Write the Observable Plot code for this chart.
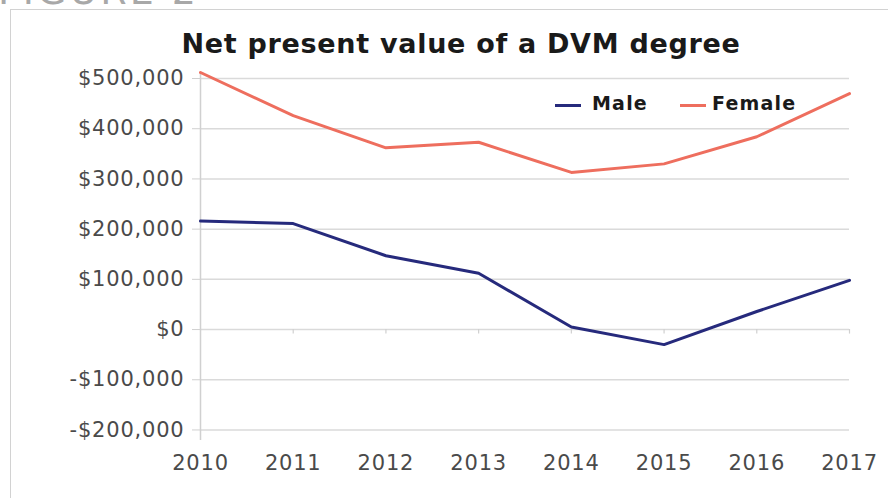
<!DOCTYPE html>
<html>
<head>
<meta charset="utf-8">
<script src="https://cdn.jsdelivr.net/npm/d3@7"></script>
<script src="https://cdn.jsdelivr.net/npm/@observablehq/plot@0.6"></script>
<style>
  html, body { margin: 0; padding: 0; background: #fff; }
  #wrap { position: relative; width: 888px; height: 498px; overflow: hidden; background: #fff; }
  #fig { position: absolute; left: -2px; top: -31px; font-family: "DejaVu Sans", sans-serif; font-size: 38px; color: #a8a8a8; letter-spacing: 3px; }
  #box { position: absolute; left: 10px; top: 9px; width: 960px; height: 600px; border: 1.5px solid #d2d2d2; box-sizing: border-box; }
  #title { position: absolute; left: 0; width: 922px; top: 30px; text-align: center; font-family: "DejaVu Sans", sans-serif; font-weight: bold; font-size: 27px; letter-spacing: 0.7px; color: #1a1a1a; line-height: 1; }
  #chart { position: absolute; left: 0; top: 0; }
  #chart svg text { letter-spacing: 0.8px; }
  .leg { position: absolute; top: 94px; font-family: "DejaVu Sans", sans-serif; font-weight: bold; font-size: 19px; letter-spacing: 1.2px; color: #1a1a1a; line-height: 1; }
  .sw { position: absolute; height: 3px; top: 104px; }
</style>
</head>
<body>
<div id="wrap">
  <div id="fig">FIGURE 2</div>
  <div id="box"></div>
  <div id="chart"></div>
  <div id="title">Net present value of a DVM degree</div>
  <div id="legend"></div>
</div>
<script>
const years = [2010, 2011, 2012, 2013, 2014, 2015, 2016, 2017];
const male = [216000, 211000, 147000, 112000, 5000, -30000, 36000, 98000];
const female = [512000, 426000, 362000, 373000, 313000, 330000, 384000, 470000];
const yTicks = [-200000, -100000, 0, 100000, 200000, 300000, 400000, 500000];
const seriesNames = ["Male", "Female"];
const seriesColors = ["#262a7c", "#ee6e5e"];

const data = [
  ...years.map((y, i) => ({year: y, value: male[i], series: "Male"})),
  ...years.map((y, i) => ({year: y, value: female[i], series: "Female"}))
];

const fmt = d => (d < 0 ? "-$" : "$") + d3.format(",")(Math.abs(d));

const chart = Plot.plot({
  width: 888,
  height: 498,
  marginLeft: 200,
  marginRight: 39,
  marginTop: 72,
  marginBottom: 58,
  style: {fontFamily: "DejaVu Sans, sans-serif", fontSize: "21px", color: "#4a4a4a", background: "transparent"},
  x: {domain: [2010, 2017]},
  y: {domain: [-221000, 512000]},
  color: {domain: seriesNames, range: seriesColors},
  marks: [
    Plot.gridY(yTicks, {stroke: "#dadada", strokeOpacity: 1, strokeWidth: 1.5}),
    Plot.ruleX(years.slice(1), {x: d => d, y1: 0, y2: -9000, stroke: "#d0d0d0", strokeWidth: 1.2}),
    Plot.ruleX([years[0]], {stroke: "#d0d0d0", strokeWidth: 1.5}),
    Plot.axisY(yTicks, {tickFormat: fmt, tickSize: 8, tickPadding: 8, stroke: "#d0d0d0", fill: "#4a4a4a", fontSize: 21, label: null}),
    Plot.axisX(years, {tickFormat: d => String(d), tickSize: 0, tickPadding: 15, fill: "#4a4a4a", fontSize: 21, label: null}),
    Plot.line(data, {x: "year", y: "value", z: "series", stroke: "series", strokeWidth: 3})
  ]
});
document.getElementById("chart").appendChild(chart);

// legend
const leg = document.getElementById("legend");
const legPos = [{sw: 555, tx: 592}, {sw: 680, tx: 712}];
seriesNames.forEach((name, i) => {
  const s = document.createElement("div");
  s.className = "sw";
  s.style.left = legPos[i].sw + "px";
  s.style.width = "26px";
  s.style.background = seriesColors[i];
  leg.appendChild(s);
  const t = document.createElement("div");
  t.className = "leg";
  t.style.left = legPos[i].tx + "px";
  t.textContent = name;
  leg.appendChild(t);
});
</script>
</body>
</html>
